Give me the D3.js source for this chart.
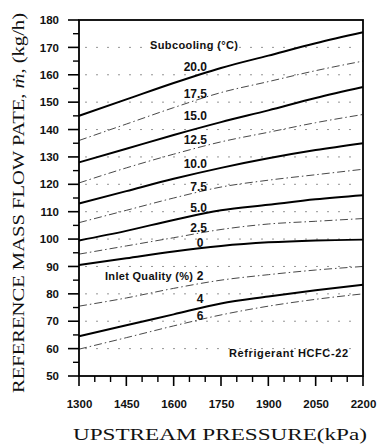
<!DOCTYPE html>
<html>
<head>
<meta charset="utf-8">
<script src="https://cdn.jsdelivr.net/npm/d3@7"></script>
<style>
  body { margin: 0; background: #fff; }
  svg { display: block; }
  .tick-lbl { font-family: "Liberation Sans", Arial, sans-serif; font-weight: bold; font-size: 11.5px; fill: #111; }
  .curve-lbl { font-family: "Liberation Sans", Arial, sans-serif; font-weight: bold; font-size: 12px; fill: #111; }
  .note { font-family: "Liberation Sans", Arial, sans-serif; font-weight: bold; font-size: 11px; fill: #111; }
  .title { font-family: "Liberation Serif", "Times New Roman", serif; font-size: 16px; fill: #111; }
</style>
</head>
<body>
<svg id="chart" width="379" height="447"></svg>
<script>
// Data
const pressures = [1300, 1450, 1600, 1750, 1900, 2050, 2200];
const yTicks = [50, 60, 70, 80, 90, 100, 110, 120, 130, 140, 150, 160, 170, 180];
const xTicks = [1300, 1450, 1600, 1750, 1900, 2050, 2200];

// subcooling curves (deg C)
const sub200 = [145, 151, 157, 162.5, 167, 171.5, 175.5];
const sub175 = [136, 142, 148, 153.5, 157.5, 161.5, 165];
const sub150 = [128, 133, 138, 142.7, 147, 151.5, 155.5];
const sub125 = [120.5, 126, 131, 135.5, 139, 142.5, 145.5];
const sub100 = [113, 117.5, 122, 126, 129.5, 132.5, 135];
const sub075 = [106, 110.5, 115, 119, 121.5, 123.5, 125.5];
const sub050 = [99.5, 103, 107, 110.5, 112.5, 114.5, 116];
const sub025 = [94.5, 97.5, 100.5, 103.5, 105.5, 106.5, 107.5];
const sub000 = [90.5, 93, 95.5, 97.5, 98.8, 99.5, 99.8];
// inlet quality curves (%)
const qual2 = [75.5, 78.5, 82, 85, 87, 88.7, 90];
const qual4 = [64.5, 68.5, 72.5, 76.5, 79, 81.3, 83.3];
const qual6 = [59.8, 64, 68.3, 72.3, 75.5, 78, 80];

const curves = [
  { name: '20.0', values: sub200, solid: true },
  { name: '17.5', values: sub175, solid: false },
  { name: '15.0', values: sub150, solid: true },
  { name: '12.5', values: sub125, solid: false },
  { name: '10.0', values: sub100, solid: true },
  { name: '7.5', values: sub075, solid: false },
  { name: '5.0', values: sub050, solid: true },
  { name: '2.5', values: sub025, solid: false },
  { name: '0', values: sub000, solid: true },
  { name: '2', values: qual2, solid: false },
  { name: '4', values: qual4, solid: true },
  { name: '6', values: qual6, solid: false }
];

const svg = d3.select('#chart');
const plotLeft = 79, plotRight = 363, plotTop = 20, plotBottom = 376;

const x = d3.scaleLinear().domain([1300, 2200]).range([plotLeft, plotRight]);
const y = d3.scaleLinear().domain([50, 180]).range([plotBottom, plotTop]);

// Dotted grid lines
svg.append('g')
  .selectAll('line')
  .data(yTicks.filter(d => d > 50 && d < 180))
  .enter()
  .append('line')
    .attr('x1', plotLeft + 6)
    .attr('x2', plotRight - 4)
    .attr('y1', d => y(d))
    .attr('y2', d => y(d))
    .attr('stroke', '#888')
    .attr('stroke-width', 0.9)
    .attr('stroke-dasharray', '2,9');

// Curves
const line = d3.line()
  .x((d, i) => x(pressures[i]))
  .y(d => y(d))
  .curve(d3.curveMonotoneX);

svg.append('g')
  .selectAll('path')
  .data(curves)
  .enter()
  .append('path')
    .attr('d', d => line(d.values))
    .attr('fill', 'none')
    .attr('stroke', d => d.solid ? '#000' : '#333')
    .attr('stroke-width', d => d.solid ? 2 : 0.9)
    .attr('stroke-dasharray', d => d.solid ? null : '8,3,1.5,3');

// Frame
svg.append('rect')
  .attr('x', plotLeft)
  .attr('y', plotTop)
  .attr('width', plotRight - plotLeft)
  .attr('height', plotBottom - plotTop)
  .attr('fill', 'none')
  .attr('stroke', '#000')
  .attr('stroke-width', 1.8);

// Y axis: major ticks every 10 (labelled), minor every 5
const yMinor = d3.range(55, 180, 10);
const gyTicks = svg.append('g');
gyTicks.selectAll('line.major')
  .data(yTicks)
  .enter()
  .append('line')
    .attr('class', 'major')
    .attr('x1', plotLeft - 11)
    .attr('x2', plotLeft)
    .attr('y1', d => y(d))
    .attr('y2', d => y(d))
    .attr('stroke', '#000')
    .attr('stroke-width', 1.6);
gyTicks.selectAll('line.minor')
  .data(yMinor)
  .enter()
  .append('line')
    .attr('class', 'minor')
    .attr('x1', plotLeft - 6)
    .attr('x2', plotLeft)
    .attr('y1', d => y(d))
    .attr('y2', d => y(d))
    .attr('stroke', '#000')
    .attr('stroke-width', 1.4);

const gy = svg.append('g')
  .attr('transform', `translate(${plotLeft},0)`)
  .call(d3.axisLeft(y).tickValues(yTicks).tickSize(11).tickPadding(9).tickFormat(d3.format('d')));
gy.select('.domain').remove();
gy.selectAll('line').remove();
gy.selectAll('text').attr('class', 'tick-lbl');

// X axis: major ticks every 150 (labelled), minor every 50
const xMinor = d3.range(1350, 2200, 50).filter(d => (d - 1300) % 150 !== 0);
const gxTicks = svg.append('g');
gxTicks.selectAll('line.major')
  .data(xTicks)
  .enter()
  .append('line')
    .attr('class', 'major')
    .attr('x1', d => x(d))
    .attr('x2', d => x(d))
    .attr('y1', plotBottom)
    .attr('y2', plotBottom + 10)
    .attr('stroke', '#000')
    .attr('stroke-width', 1.6);
gxTicks.selectAll('line.minor')
  .data(xMinor)
  .enter()
  .append('line')
    .attr('class', 'minor')
    .attr('x1', d => x(d))
    .attr('x2', d => x(d))
    .attr('y1', plotBottom)
    .attr('y2', plotBottom + 6)
    .attr('stroke', '#000')
    .attr('stroke-width', 1.4);

const gx = svg.append('g')
  .attr('transform', `translate(0,${plotBottom})`)
  .call(d3.axisBottom(x).tickValues(xTicks).tickSize(10).tickPadding(14).tickFormat(d3.format('d')));
gx.select('.domain').remove();
gx.selectAll('line').remove();
gx.selectAll('text').attr('class', 'tick-lbl');

// Curve labels
const labelPos = {
  '20.0': 71, '17.5': 98, '15.0': 120, '12.5': 144, '10.0': 168,
  '7.5': 191, '5.0': 212, '2.5': 232, '0': 247, '2': 280, '4': 303, '6': 320
};
svg.append('g')
  .selectAll('text')
  .data(curves)
  .enter()
  .append('text')
    .attr('class', 'curve-lbl')
    .attr('x', d => d.name.length > 1 ? 207 : 200)
    .attr('y', d => labelPos[d.name])
    .attr('text-anchor', d => d.name.length > 1 ? 'end' : 'middle')
    .text(d => d.name);

svg.append('text').attr('class', 'note').attr('x', 150).attr('y', 49)
  .attr('textLength', 88).attr('lengthAdjust', 'spacing').text('Subcooling (°C)');
svg.append('text').attr('class', 'note').attr('x', 105).attr('y', 280)
  .attr('textLength', 88).attr('lengthAdjust', 'spacing').text('Inlet Quality (%)');
svg.append('text').attr('class', 'note').attr('x', 229).attr('y', 357)
  .attr('textLength', 119).attr('lengthAdjust', 'spacing').text('Refrigerant HCFC-22');

// Axis titles
svg.append('text')
  .attr('class', 'title')
  .attr('x', 220)
  .attr('y', 440)
  .attr('text-anchor', 'middle')
  .attr('textLength', 294)
  .attr('lengthAdjust', 'spacingAndGlyphs')
  .text('UPSTREAM PRESSURE(kPa)');

const yt = svg.append('text')
  .attr('class', 'title')
  .attr('transform', 'translate(24,203) rotate(-90)')
  .attr('text-anchor', 'middle')
  .attr('textLength', 380)
  .attr('lengthAdjust', 'spacingAndGlyphs');
yt.append('tspan').text('REFERENCE MASS FLOW PATE, ');
yt.append('tspan').attr('font-style', 'italic').text('ṁ');
yt.append('tspan').text(', (kg/h)');
</script>
</body>
</html>
